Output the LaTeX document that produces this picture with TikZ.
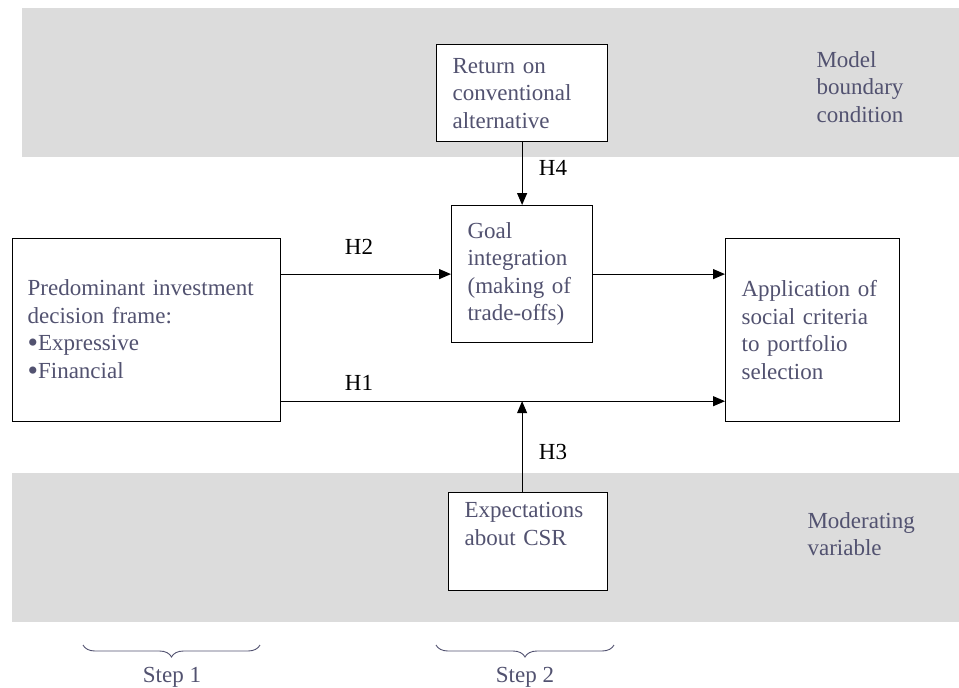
\documentclass[tikz,border=0pt]{standalone}
\usepackage{fontspec}
\setmainfont{Liberation Serif}
\usetikzlibrary{arrows.meta,decorations.pathreplacing}
\definecolor{bandgray}{RGB}{220,220,220}
\definecolor{boxtext}{RGB}{82,82,112}
\newcommand{\bigbullet}{\raisebox{-2pt}{\fontsize{30}{27.5}\selectfont\textbullet}}
\tikzset{
  box/.style={draw=black,line width=1.2pt,fill=white,anchor=north west,align=left,
    inner xsep=16pt,inner ysep=0pt,text=boxtext,font=\fontsize{23}{27.5}\selectfont},
  hyp/.style={text=black,font=\fontsize{23}{27.5}\selectfont},
  note/.style={text=boxtext,align=left,anchor=west,font=\fontsize{23}{27.5}\selectfont},
  steplabel/.style={text=boxtext,font=\fontsize{23}{27.5}\selectfont},
  link/.style={-{Triangle[length=12pt,width=10pt]},line width=1.1pt},
  stepbrace/.style={decorate,decoration={brace,mirror,amplitude=12pt},draw=boxtext,line width=0.9pt}
}
\begin{document}
\begin{tikzpicture}[x=1pt,y=-1pt]
  \useasboundingbox (0,0) rectangle (959,688);
  \fill[bandgray] (22,8) rectangle (959,157);
  \fill[bandgray] (12,473) rectangle (959,622);

  \node[box,text width=139pt,minimum height=97pt] (ret) at (436,44)
    {Return on\\conventional\\alternative};
  \node[box,text width=109pt,minimum height=137pt] (goal) at (451,205)
    {Goal\\integration\\(making of\\trade-offs)};
  \node[box,inner xsep=15pt,text width=238pt,minimum height=183pt] (frame) at (12,238)
    {Predominant investment\\decision frame:\\\bigbullet Expressive\\\bigbullet Financial};
  \node[box,text width=142pt,minimum height=183pt] (app) at (725,238)
    {Application of\\social criteria\\to portfolio\\selection};
  \node[box,text width=127pt,minimum height=98pt] (expect) at (448,492)
    {Expectations\\about CSR\\\strut};

  \node[note] (bound) at (813,87) {Model\\boundary\\condition};
  \node[note] (moder) at (804,534) {Moderating\\variable};

  \node[hyp] (h4) at (553,168) {H4};
  \node[hyp] (h2) at (359,247) {H2};
  \node[hyp] (h1) at (359,383) {H1};
  \node[hyp] (h3) at (553,452) {H3};

  \path (frame.south east) ++(0,-21) coordinate (h1s);
  \begin{scope}[link]
    \draw (ret.south) -- (goal.north);
    \draw (frame.east |- goal.west) -- (goal.west);
    \draw (goal.east) -- (app.west |- goal.east);
    \draw (h1s) -- (app.west |- h1s);
    \draw (goal.south |- expect.north) -- (goal.south |- h1s);
  \end{scope}

  \coordinate (s1a) at (83,645);
  \coordinate (s1b) at (260,645);
  \coordinate (s2a) at (436,645);
  \coordinate (s2b) at (614,645);
  \draw[stepbrace] (s1a) -- (s1b);
  \draw[stepbrace] (s2a) -- (s2b);
  \node[steplabel] (step1) at (172,677) {Step 1};
  \node[steplabel] (step2) at (525,677) {Step 2};
\end{tikzpicture}
\end{document}
